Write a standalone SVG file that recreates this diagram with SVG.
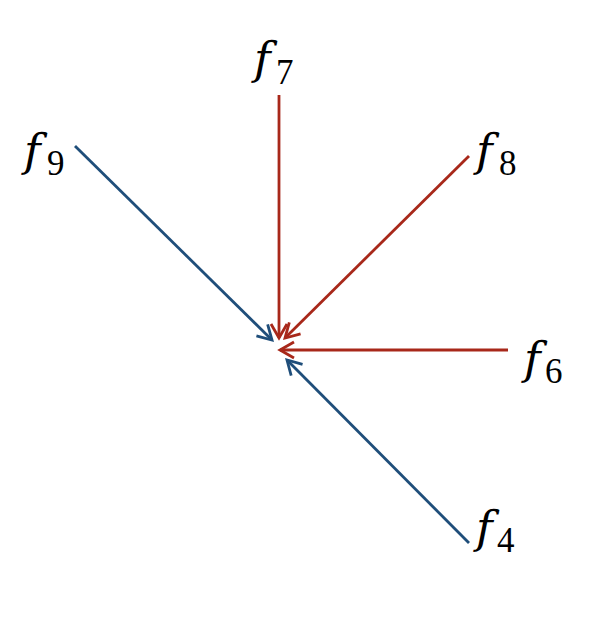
<svg xmlns="http://www.w3.org/2000/svg" width="594" height="628" viewBox="0 0 594 628">
<style>
.f{font-family:"DejaVu Serif","Liberation Serif",serif;font-style:italic;font-size:45px;fill:#000}
.s{font-family:"Liberation Serif","DejaVu Serif",serif;font-size:35px;fill:#000}
.r{stroke:#A8281A;stroke-width:2.8;fill:none}
.b{stroke:#1F4E7A;stroke-width:2.8;fill:none}
</style>
<defs>
<marker id="ar" markerUnits="userSpaceOnUse" markerWidth="18" markerHeight="20" refX="15" refY="9" orient="auto" viewBox="0 0 18 18">
<path d="M1,1 L15,9 L1,17" fill="none" stroke="#A8281A" stroke-width="2.8"/>
</marker>
<marker id="ab" markerUnits="userSpaceOnUse" markerWidth="18" markerHeight="20" refX="15" refY="9" orient="auto" viewBox="0 0 18 18">
<path d="M1,1 L15,9 L1,17" fill="none" stroke="#1F4E7A" stroke-width="2.8"/>
</marker>
</defs>
<g id="connectors">
<line class="r" x1="279" y1="95" x2="279" y2="338" marker-end="url(#ar)"/>
<line class="b" x1="75" y1="146" x2="272" y2="340" marker-end="url(#ab)"/>
<line class="r" x1="469" y1="156" x2="285" y2="338" marker-end="url(#ar)"/>
<line class="r" x1="508" y1="350" x2="280" y2="350" marker-end="url(#ar)"/>
<line class="b" x1="469" y1="543" x2="287" y2="360" marker-end="url(#ab)"/>
</g>
<g id="f7"><text class="f" x="254" y="74">f</text><text class="s" x="276" y="84">7</text></g>
<g id="f9"><text class="f" x="24" y="166">f</text><text class="s" x="47" y="175">9</text></g>
<g id="f8"><text class="f" x="476" y="166">f</text><text class="s" x="499" y="175">8</text></g>
<g id="f6"><text class="f" x="524" y="374">f</text><text class="s" x="545" y="383">6</text></g>
<g id="f4"><text class="f" x="476" y="543">f</text><text class="s" x="497" y="552">4</text></g>
</svg>
